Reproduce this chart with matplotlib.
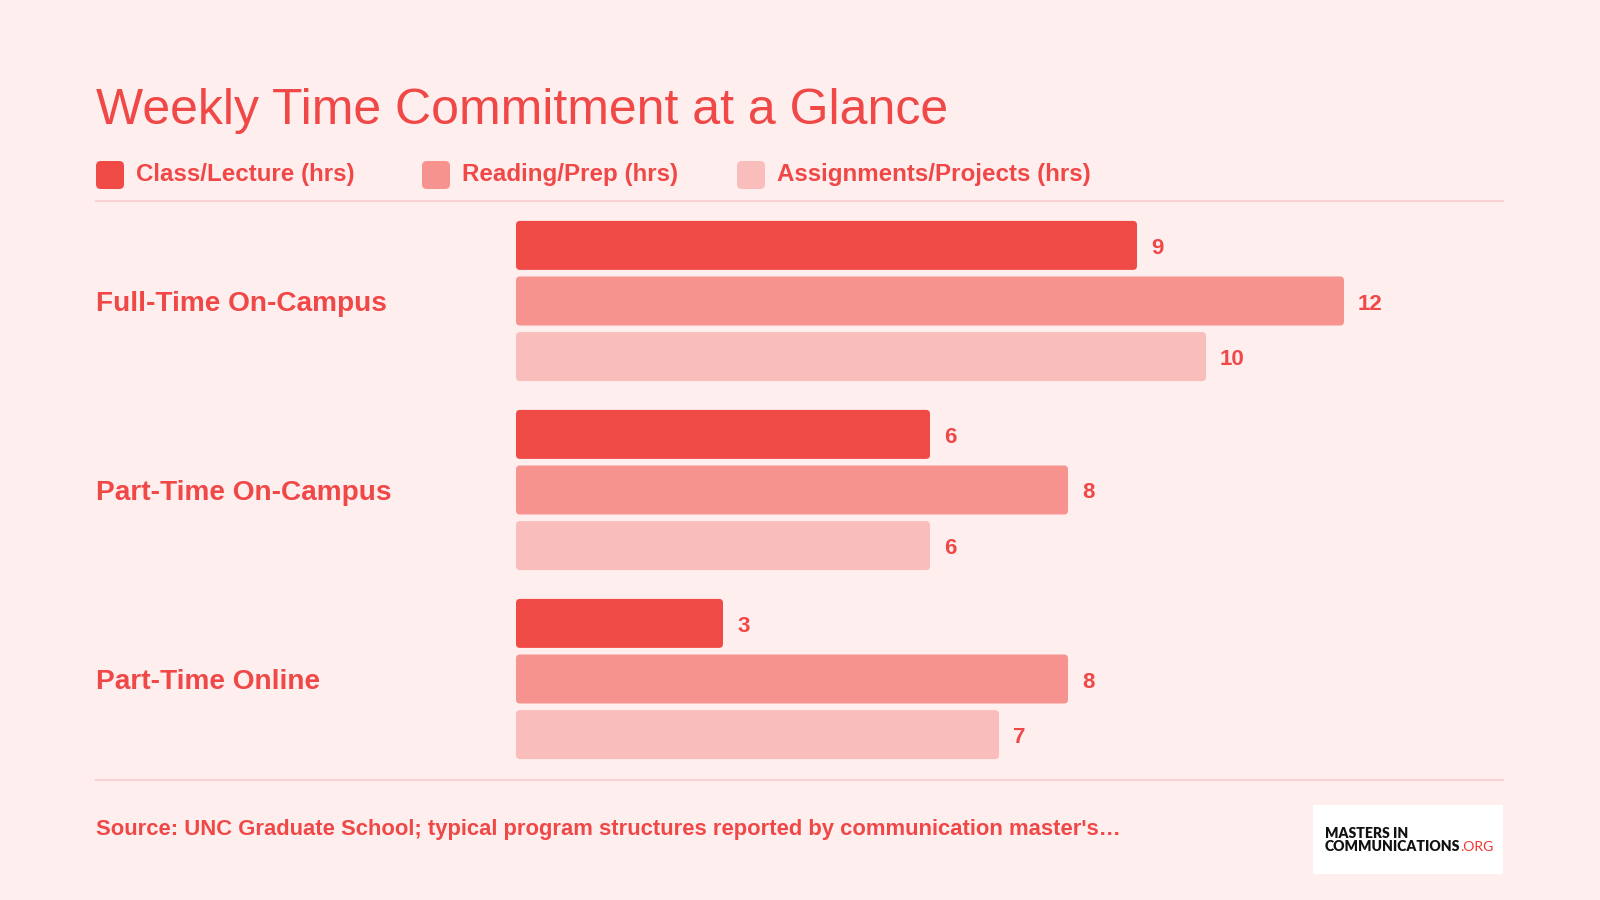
import numpy as np
import matplotlib.pyplot as plt
from matplotlib.patches import FancyBboxPatch, Rectangle

plt.rcParams['font.family'] = ['Liberation Sans', 'DejaVu Sans']

# data
groups = ['Full-Time On-Campus', 'Part-Time On-Campus', 'Part-Time Online']
series = ['Class/Lecture (hrs)', 'Reading/Prep (hrs)', 'Assignments/Projects (hrs)']
class_hrs = [9, 6, 3]
reading_hrs = [12, 8, 8]
assign_hrs = [10, 6, 7]

colors = ['#F04A47', '#F6938F', '#F9BEBC']
red = '#F04747'
bg = '#FEEEEE'
line_col = '#F9D2D5'

W, H = 1600, 900
fig = plt.figure(figsize=(16, 9), dpi=100, facecolor=bg)


def fx(x):
    return x / W


def fy(y):
    return 1 - y / H


# axes placed in pixel space: bars start at x=516, 69 px per hour
ax_left, ax_right = 516, 1503
ax_top, ax_bot = 201, 780
ax = fig.add_axes([fx(ax_left), fy(ax_bot), (ax_right - ax_left) / W, (ax_bot - ax_top) / H])
ax.set_facecolor(bg)
px_per_unit_x = 69
px_per_unit_y = 189
ax.set_xlim(0, (ax_right - ax_left) / px_per_unit_x)
c0 = 301
ax.set_ylim((ax_bot - c0) / px_per_unit_y, (ax_top - c0) / px_per_unit_y)
ax.axis('off')

y = np.arange(len(groups))
pitch = 55.6 / px_per_unit_y
bh = 49 / px_per_unit_y
all_vals = [class_hrs, reading_hrs, assign_hrs]

aspect = px_per_unit_x / px_per_unit_y
rad = 4 / px_per_unit_x
for i, vals in enumerate(all_vals):
    bars = ax.barh(y + (i - 1) * pitch, vals, height=bh, color=colors[i])
    for b, v in zip(bars, vals):
        b.remove()
        p = FancyBboxPatch((b.get_x(), b.get_y()), b.get_width(), b.get_height(),
                           boxstyle='round,pad=0,rounding_size=%f' % rad,
                           mutation_aspect=aspect, facecolor=colors[i],
                           edgecolor='none')
        ax.add_patch(p)
        ax.text(v + 14 / px_per_unit_x, b.get_y() + b.get_height() / 2 + 3 / px_per_unit_y,
                str(v), color=red, fontsize=16, fontweight='bold', va='center', ha='left')

# category labels
for g, yy in zip(groups, [304, 493, 682]):
    fig.text(fx(96), fy(yy), g, color=red, fontsize=20.2, fontweight='bold',
             va='center', ha='left')

# title
fig.text(fx(96), fy(124), 'Weekly Time Commitment at a Glance', color=red,
         fontsize=36, va='baseline', ha='left')

# legend
leg_sq = [96, 422, 737]
for s, c, lx in zip(series, colors, leg_sq):
    fig.patches.append(FancyBboxPatch((fx(lx), fy(189)), fx(28), 28 / H,
                                      boxstyle='round,pad=0,rounding_size=0.003',
                                      mutation_aspect=16 / 9,
                                      transform=fig.transFigure, facecolor=c,
                                      edgecolor='none'))
    fig.text(fx(lx + 40), fy(175), s, color=red, fontsize=17.4,
             fontweight='bold', va='center', ha='left')

# separator lines
fig.add_artist(plt.Line2D([fx(96), fx(1503)], [fy(201), fy(201)], color=line_col, lw=1.5))
fig.add_artist(plt.Line2D([fx(96), fx(1503)], [fy(780), fy(780)], color=line_col, lw=1.5))

# source
fig.text(fx(96), fy(835), "Source: UNC Graduate School; typical program structures reported by communication master's\u2026",
         color=red, fontsize=15.8, fontweight='bold', va='baseline', ha='left')

# logo
fig.patches.append(Rectangle((fx(1313), fy(874)), fx(190), 69 / H,
                             transform=fig.transFigure, facecolor='white',
                             edgecolor='none'))
logo_font = ['Lato', 'DejaVu Sans']
fig.text(fx(1325), fy(838), 'MASTERS IN', color='#111111', fontsize=10.1,
         fontweight='heavy', va='baseline', ha='left', family=logo_font)
t = fig.text(fx(1325), fy(851), 'COMMUNICATIONS', color='#111111', fontsize=10.1,
             fontweight='heavy', va='baseline', ha='left', family=logo_font)
fig.canvas.draw()
bb = t.get_window_extent()
fig.text(bb.x1 / W, fy(851), '.ORG', color='#F0362F', fontsize=10.1,
         va='baseline', ha='left', family=logo_font)

fig.savefig('out.png', dpi=100, facecolor=bg)
